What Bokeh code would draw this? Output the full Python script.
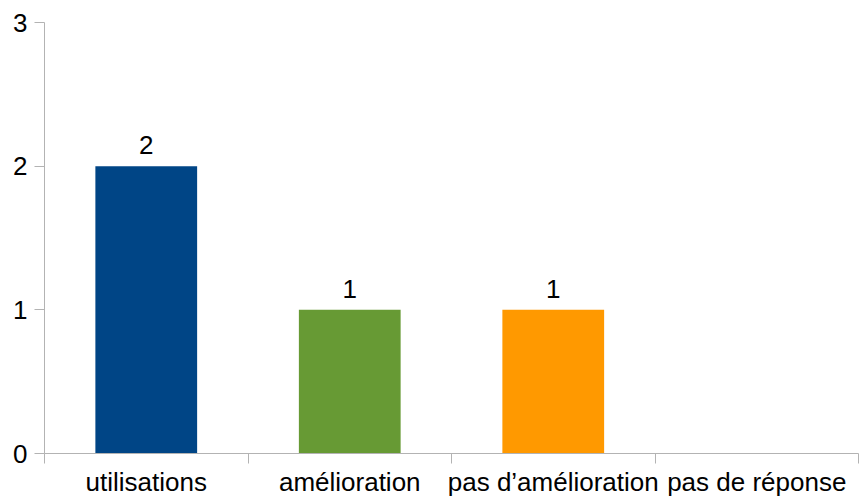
from bokeh.plotting import figure
from bokeh.models import ColumnDataSource, FixedTicker, Range1d
from bokeh.embed import file_html
from bokeh.resources import INLINE
from bokeh.core.properties import value

categories = ["utilisations", "amélioration", "pas d’amélioration", "pas de réponse"]
counts = [2, 1, 1, 0]
colors = ["#004586", "#679a34", "#ff9900", "#7e0021"]
y_ticks = [0, 1, 2, 3]

FONT = "Liberation Sans"
FS = "26px"
GRAY = "#b3b3b3"

centers = [i + 0.5 for i in range(len(categories))]
boundaries = list(range(len(categories) + 1))

p = figure(width=859, height=499, output_backend="svg", toolbar_location=None,
           x_range=Range1d(0, len(categories)), y_range=Range1d(0, 3),
           min_border_left=44, min_border_right=1, min_border_top=22, min_border_bottom=46)
p.outline_line_color = None
p.xgrid.visible = False
p.ygrid.visible = False
p.background_fill_color = "white"
p.border_fill_color = "white"

src = ColumnDataSource(dict(x=centers, top=counts, color=colors))
p.vbar(x="x", top="top", width=0.5, bottom=0, color="color", source=src, line_color=None)

lx = [c for c, v in zip(centers, counts) if v > 0]
ly = [v for v in counts if v > 0]
lt = [str(v) for v in counts if v > 0]
p.text(x=lx, y=ly, text=lt, text_align="center", text_baseline="bottom",
       y_offset=-12, text_font=value(FONT), text_font_size=FS, text_color="black")

xa = p.xaxis[0]
xa.ticker = FixedTicker(ticks=centers, minor_ticks=boundaries)
xa.major_label_overrides = {c: cat for c, cat in zip(centers, categories)}
xa.major_tick_out = 0
xa.major_tick_in = 0
xa.minor_tick_out = 10
xa.minor_tick_in = 0
xa.minor_tick_line_color = GRAY
xa.axis_line_color = GRAY
xa.major_label_text_font = FONT
xa.major_label_text_font_size = FS
xa.major_label_text_color = "black"
xa.major_label_standoff = 3

ya = p.yaxis[0]
ya.ticker = FixedTicker(ticks=y_ticks, minor_ticks=[])
ya.major_tick_out = 10
ya.major_tick_in = 0
ya.major_tick_line_color = GRAY
ya.minor_tick_line_color = None
ya.axis_line_color = GRAY
ya.major_label_text_font = FONT
ya.major_label_text_font_size = FS
ya.major_label_text_color = "black"
ya.major_label_standoff = 7

open("out.html", "w").write(file_html(p, INLINE))
